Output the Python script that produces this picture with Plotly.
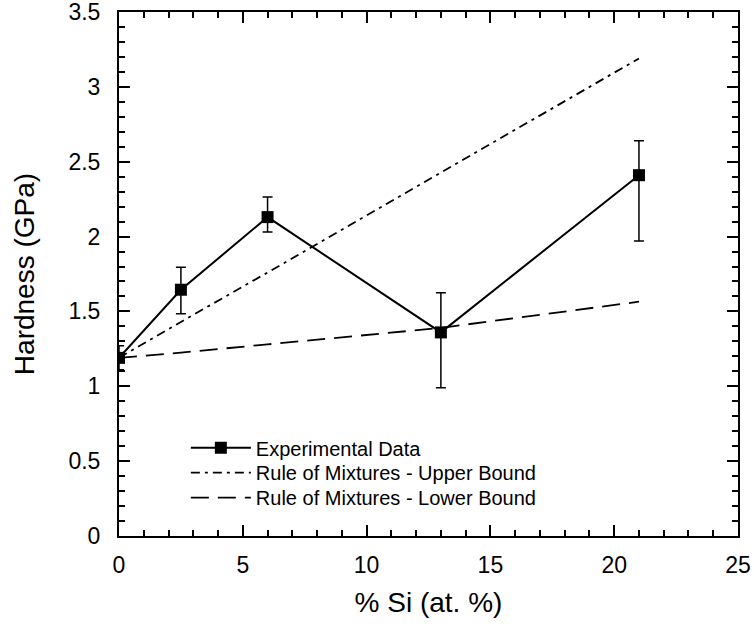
import plotly.graph_objects as go

si = [0, 2.5, 6, 13, 21]
hardness = [1.19, 1.645, 2.13, 1.36, 2.41]
err_plus = [0.08, 0.15, 0.135, 0.265, 0.23]
err_minus = [0.08, 0.16, 0.10, 0.37, 0.44]
upper = [1.19, 1.43, 1.76, 2.43, 3.19]
lower = [1.19, 1.225, 1.28, 1.39, 1.565]

font = "Arial, Liberation Sans, sans-serif"

fig = go.Figure()
fig.add_trace(go.Scatter(
    x=si, y=hardness, mode="lines+markers", name="Experimental Data", legend="legend",
    line=dict(color="black", width=2),
    marker=dict(symbol="square", size=12, color="black"),
    error_y=dict(type="data", symmetric=False, array=err_plus, arrayminus=err_minus,
                 color="black", thickness=1.5, width=5),
))
fig.add_trace(go.Scatter(
    x=si, y=upper, mode="lines", name="Rule of Mixtures - Upper Bound", legend="legend2",
    line=dict(color="black", width=1.8, dash="9px,5px,3px,5px"),
))
fig.add_trace(go.Scatter(
    x=si, y=lower, mode="lines", name="Rule of Mixtures - Lower Bound", legend="legend3",
    line=dict(color="black", width=1.8, dash="18px,9px"),
))

axis_common = dict(
    showline=True, linecolor="black", linewidth=2, mirror="allticks",
    ticks="inside", ticklen=11, tickwidth=1.5, tickcolor="black",
    showgrid=False, zeroline=False, automargin=False, ticklabeloverflow="allow",
    tickfont=dict(family=font, size=23, color="black"),
)

fig.update_xaxes(
    range=[0, 25], dtick=5, tick0=0, ticklabelstandoff=7,
    title=dict(text="% Si (at. %)", font=dict(family=font, size=28, color="black"), standoff=16),
    minor=dict(ticks="inside", ticklen=6, tickwidth=1.5, tickcolor="black", dtick=1, showgrid=False),
    **axis_common,
)
fig.update_yaxes(
    range=[0, 3.5], dtick=0.5, tick0=0, ticklabelstandoff=12,
    title=dict(text="Hardness (GPa)", font=dict(family=font, size=28, color="black"), standoff=26),
    minor=dict(ticks="inside", ticklen=6, tickwidth=1.5, tickcolor="black", dtick=0.1, showgrid=False),
    **axis_common,
)

leg_common = dict(xanchor="left", yanchor="top", bgcolor="rgba(0,0,0,0)",
                  font=dict(family=font, size=20, color="black"), itemwidth=60)
leg_x = 0.108

fig.update_layout(
    width=754, height=632,
    margin=dict(l=119, r=16, t=12, b=96, autoexpand=False),
    plot_bgcolor="white", paper_bgcolor="white",
    font=dict(family=font, color="black"),
    legend=dict(x=leg_x, y=0.2057, **leg_common),
    legend2=dict(x=leg_x, y=0.1581, **leg_common),
    legend3=dict(x=leg_x, y=0.1105, **leg_common),
    showlegend=True,
)

fig.write_html("out.html", config={"displayModeBar": False},
               post_script="document.body.style.margin='0px';")
